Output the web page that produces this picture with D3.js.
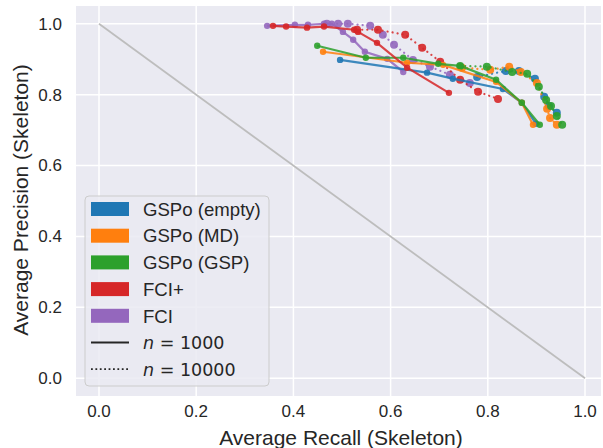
<!DOCTYPE html>
<html>
<head>
<meta charset="utf-8">
<script src="https://cdnjs.cloudflare.com/ajax/libs/d3/7.8.5/d3.min.js"></script>
<style>
  body { margin: 0; background: #fff; }
  text { font-family: "Liberation Sans", Arial, sans-serif; fill: #262626; }
</style>
</head>
<body>
<div id="chart"></div>
<script>
const methods = ["GSPo (empty)", "GSPo (MD)", "GSPo (GSP)", "FCI+", "FCI"];
const colors = ["#1f77b4", "#ff7f0e", "#2ca02c", "#d62728", "#9467bd"];
const sampleSizes = ["n = 1000", "n = 10000"];
const xTicks = [0.0, 0.2, 0.4, 0.6, 0.8, 1.0];
const yTicks = [0.0, 0.2, 0.4, 0.6, 0.8, 1.0];

// recall / precision per method, n = 1000 (solid)
const recall1000 = [
  [0.496, 0.675, 0.728, 0.831, 0.870, 0.899],
  [0.461, 0.634, 0.708, 0.817, 0.870, 0.893],
  [0.449, 0.549, 0.626, 0.698, 0.743, 0.817, 0.870, 0.907],
  [0.358, 0.385, 0.428, 0.463, 0.525, 0.533, 0.572, 0.634, 0.720],
  [0.346, 0.403, 0.430, 0.463, 0.479, 0.502, 0.523, 0.547, 0.593, 0.626]
];
const precision1000 = [
  [0.898, 0.862, 0.845, 0.816, 0.777, 0.718],
  [0.921, 0.890, 0.884, 0.836, 0.777, 0.715],
  [0.938, 0.904, 0.904, 0.887, 0.881, 0.842, 0.777, 0.715],
  [0.994, 0.992, 0.989, 0.992, 0.983, 0.977, 0.946, 0.876, 0.805],
  [0.994, 0.997, 0.997, 1.000, 1.000, 0.977, 0.955, 0.921, 0.901, 0.864]
];

// recall / precision per method, n = 10000 (dotted)
const recall10000 = [
  [0.778, 0.837, 0.864, 0.897, 0.916, 0.926, 0.942],
  [0.747, 0.805, 0.844, 0.868, 0.901, 0.922, 0.928, 0.942],
  [0.743, 0.798, 0.850, 0.881, 0.905, 0.920, 0.930, 0.942, 0.953],
  [0.531, 0.574, 0.630, 0.665, 0.702, 0.743, 0.780, 0.821],
  [0.469, 0.492, 0.512, 0.558, 0.584, 0.607, 0.646, 0.681, 0.722, 0.763]
];
const precision10000 = [
  [0.850, 0.867, 0.867, 0.845, 0.794, 0.768, 0.749],
  [0.876, 0.870, 0.879, 0.864, 0.833, 0.760, 0.734, 0.715],
  [0.881, 0.879, 0.864, 0.859, 0.822, 0.785, 0.768, 0.740, 0.715],
  [0.983, 0.983, 0.969, 0.932, 0.893, 0.842, 0.808, 0.788],
  [1.000, 1.000, 1.000, 0.994, 0.969, 0.941, 0.898, 0.879, 0.856, 0.833]
];

const W = 603, H = 448;
const plot = { left: 76, right: 601, top: 6, bottom: 396 };

const x = d3.scaleLinear().domain([-0.0473, 1.0329]).range([plot.left, plot.right]);
const y = d3.scaleLinear().domain([-0.05, 1.05]).range([plot.bottom, plot.top]);

var svg = d3.select("#chart").append("svg")
  .attr("width", W)
  .attr("height", H);

svg.append("rect")
  .attr("x", plot.left)
  .attr("y", plot.top)
  .attr("width", plot.right - plot.left)
  .attr("height", plot.bottom - plot.top)
  .attr("fill", "#eaeaf2");

// grid
svg.append("g")
  .selectAll("line")
  .data(xTicks)
  .enter()
  .append("line")
  .attr("x1", function(d) { return x(d); })
  .attr("x2", function(d) { return x(d); })
  .attr("y1", plot.top)
  .attr("y2", plot.bottom)
  .attr("stroke", "#fff")
  .attr("stroke-width", 1.5);

svg.append("g")
  .selectAll("line")
  .data(yTicks)
  .enter()
  .append("line")
  .attr("y1", function(d) { return y(d); })
  .attr("y2", function(d) { return y(d); })
  .attr("x1", plot.left)
  .attr("x2", plot.right)
  .attr("stroke", "#fff")
  .attr("stroke-width", 1.5);

// tick labels
svg.append("g")
  .selectAll("text")
  .data(xTicks)
  .enter()
  .append("text")
  .attr("x", function(d) { return x(d); })
  .attr("y", 417)
  .attr("text-anchor", "middle")
  .style("font-size", "17px")
  .text(function(d) { return d.toFixed(1); });

svg.append("g")
  .selectAll("text")
  .data(yTicks)
  .enter()
  .append("text")
  .attr("x", 62)
  .attr("y", function(d) { return y(d); })
  .attr("dy", "0.35em")
  .attr("text-anchor", "end")
  .style("font-size", "17px")
  .text(function(d) { return d.toFixed(1); });

svg.append("text")
  .attr("x", 341)
  .attr("y", 445)
  .attr("text-anchor", "middle")
  .style("font-size", "21px")
  .text("Average Recall (Skeleton)");

svg.append("text")
  .attr("transform", "translate(28,200) rotate(-90)")
  .attr("text-anchor", "middle")
  .style("font-size", "21px")
  .text("Average Precision (Skeleton)");

// diagonal reference
svg.append("line")
  .attr("x1", x(0))
  .attr("y1", y(1))
  .attr("x2", x(1))
  .attr("y2", y(0))
  .attr("stroke", "#bdbdbd")
  .attr("stroke-width", 1.8);

var line = d3.line()
  .x(function(d) { return x(d[0]); })
  .y(function(d) { return y(d[1]); });

function drawSeries(rec, prec, dotted, i) {
  var pts = rec.map(function(r, j) { return [r, prec[j]]; });
  svg.append("path")
    .datum(pts)
    .attr("d", line)
    .attr("fill", "none")
    .attr("stroke", colors[i])
    .attr("stroke-width", 2.2)
    .attr("stroke-opacity", 0.85)
    .attr("stroke-linecap", dotted ? "round" : "butt")
    .attr("stroke-dasharray", dotted ? "0.1,5" : null);
  svg.append("g")
    .selectAll("circle")
    .data(pts)
    .enter()
    .append("circle")
    .attr("cx", function(d) { return x(d[0]); })
    .attr("cy", function(d) { return y(d[1]); })
    .attr("r", dotted ? 4 : 3.2)
    .attr("fill", colors[i])
    .attr("fill-opacity", 0.9);
}

var order = [4, 0, 1, 2, 3];
order.forEach(function(i) {
  drawSeries(recall10000[i], precision10000[i], true, i);
});
order.forEach(function(i) {
  drawSeries(recall1000[i], precision1000[i], false, i);
});

// legend
var legend = svg.append("g").attr("transform", "translate(85,196)");

legend.append("rect")
  .attr("width", 184)
  .attr("height", 190)
  .attr("rx", 4)
  .attr("fill", "#eaeaf2")
  .attr("fill-opacity", 0.85)
  .attr("stroke", "#cccccc")
  .attr("stroke-width", 1);

var rowStep = 26.7;

var methodRows = legend.selectAll(".m")
  .data(methods)
  .enter()
  .append("g")
  .attr("class", "m")
  .attr("transform", function(d, i) {
    return "translate(0," + (13 + i * rowStep) + ")";
  });

methodRows.append("rect")
  .attr("x", 6)
  .attr("y", -7)
  .attr("width", 38)
  .attr("height", 14)
  .attr("fill", function(d, i) { return colors[i]; });

methodRows.append("text")
  .attr("x", 58)
  .attr("dy", "0.36em")
  .style("font-size", "18.6px")
  .text(function(d) { return d; });

var nRows = legend.selectAll(".n")
  .data(sampleSizes)
  .enter()
  .append("g")
  .attr("class", "n")
  .attr("transform", function(d, i) {
    return "translate(0," + (13 + (5 + i) * rowStep) + ")";
  });

nRows.append("line")
  .attr("x1", 6)
  .attr("x2", 44)
  .attr("stroke", "#262626")
  .attr("stroke-width", 1.8)
  .attr("stroke-dasharray", function(d, i) { return i === 1 ? "1.8,2.6" : null; });

nRows.each(function(d) {
  var parts = d.split(" = ");
  var t = d3.select(this).append("text")
    .attr("x", 58)
    .attr("dy", "0.36em")
    .style("font-family", "'DejaVu Sans', sans-serif")
    .style("font-size", "17.5px");
  t.append("tspan").style("font-style", "italic").text(parts[0]);
  t.append("tspan").text(" = " + parts[1]);
});
</script>
</body>
</html>
